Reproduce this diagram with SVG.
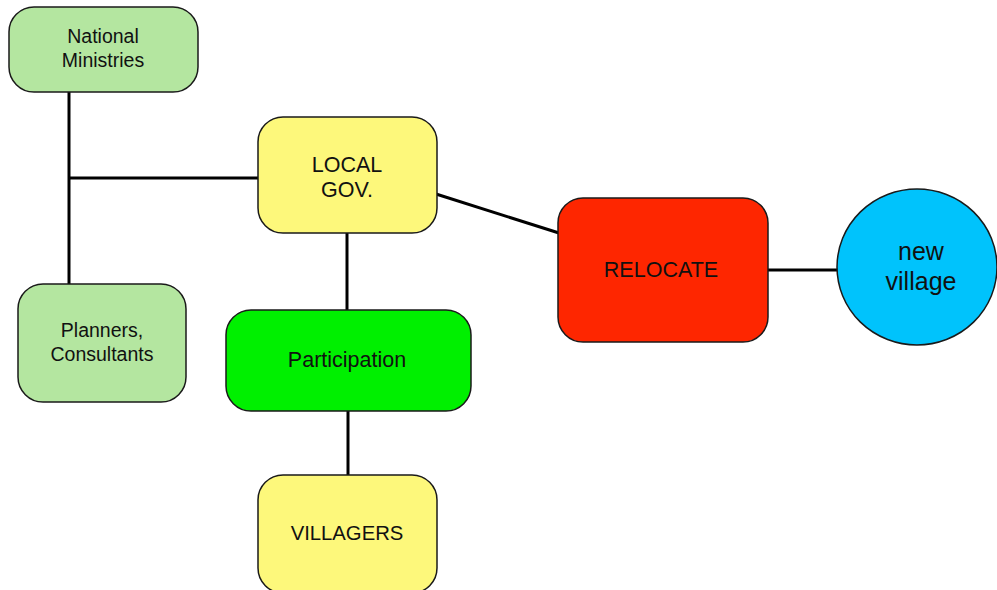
<svg xmlns="http://www.w3.org/2000/svg" width="997" height="590" viewBox="0 0 997 590">
  <style>
    .box { stroke: #1a1a1a; stroke-width: 1.5; }
    .lgreen { fill: #b4e6a0; }
    .yellow { fill: #fdf87b; }
    .green { fill: #00f000; }
    .red { fill: #fe2600; }
    .blue { fill: #00c3fc; }
    .lbl { font-family: "Liberation Sans", Arial, sans-serif; fill: #111; text-anchor: middle; }
    .conn { stroke: #000; stroke-width: 3; fill: none; }
  </style>
  <rect width="997" height="590" fill="#ffffff"/>

  <!-- connectors -->
  <g id="connectors">
    <line class="conn" x1="69" y1="92" x2="69" y2="285"/>
    <line class="conn" x1="69" y1="178" x2="259" y2="178"/>
    <line class="conn" x1="436" y1="194" x2="559" y2="233"/>
    <line class="conn" x1="347" y1="233" x2="347" y2="311"/>
    <line class="conn" x1="348" y1="410" x2="348" y2="476"/>
    <line class="conn" x1="767" y1="270" x2="838" y2="270"/>
  </g>

  <g id="national-ministries">
    <rect class="box lgreen" x="9" y="7" width="189" height="85" rx="25"/>
    <text class="lbl" x="103" y="43" font-size="19.5">National</text>
    <text class="lbl" x="103" y="67" font-size="19.5">Ministries</text>
  </g>

  <g id="planners-consultants">
    <rect class="box lgreen" x="18" y="284" width="168" height="118" rx="25"/>
    <text class="lbl" x="102" y="337" font-size="19.5">Planners,</text>
    <text class="lbl" x="102" y="361" font-size="19.5">Consultants</text>
  </g>

  <g id="local-gov">
    <rect class="box yellow" x="258" y="117" width="179" height="116" rx="25"/>
    <text class="lbl" x="347" y="172" font-size="21.5">LOCAL</text>
    <text class="lbl" x="347" y="197" font-size="21.5">GOV.</text>
  </g>

  <g id="participation">
    <rect class="box green" x="226" y="310" width="245" height="101" rx="25"/>
    <text class="lbl" x="347" y="367" font-size="21.5">Participation</text>
  </g>

  <g id="villagers">
    <rect class="box yellow" x="258" y="475" width="179" height="118" rx="25"/>
    <text class="lbl" x="347" y="540" font-size="20.3">VILLAGERS</text>
  </g>

  <g id="relocate">
    <rect class="box red" x="558" y="198" width="210" height="144" rx="25"/>
    <text class="lbl" x="661" y="277" font-size="21.5">RELOCATE</text>
  </g>

  <g id="new-village">
    <ellipse class="box blue" cx="917" cy="267" rx="80" ry="78"/>
    <text class="lbl" x="921" y="260" font-size="25">new</text>
    <text class="lbl" x="921" y="290" font-size="25">village</text>
  </g>
</svg>
